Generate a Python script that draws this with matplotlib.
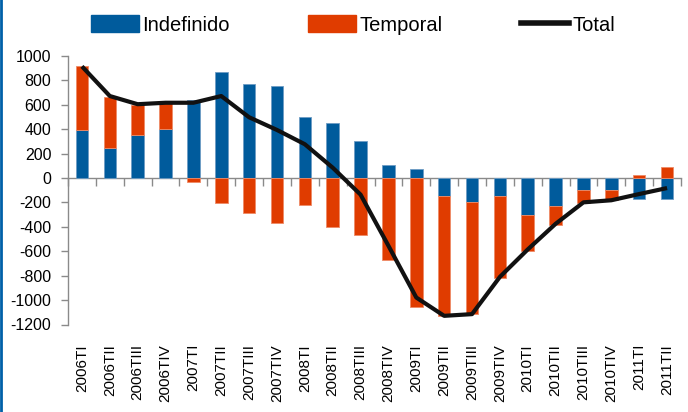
import matplotlib
matplotlib.use("Agg")
import matplotlib.pyplot as plt
from matplotlib.lines import Line2D
from matplotlib.patches import Patch
import numpy as np

categories = ["2006TI", "2006TII", "2006TIII", "2006TIV",
              "2007TI", "2007TII", "2007TIII", "2007TIV",
              "2008TI", "2008TII", "2008TIII", "2008TIV",
              "2009TI", "2009TII", "2009TIII", "2009TIV",
              "2010TI", "2010TII", "2010TIII", "2010TIV",
              "2011TI", "2011TII"]
indefinido = [390, 245, 350, 400, 640, 865, 767, 751, 500, 452, 305, 103,
              71, -150, -199, -147, -299, -231, -95, -95, -169, -169]
temporal = [530, 420, 250, 215, -35, -204, -286, -370, -220, -403, -470, -672,
            -1053, -984, -916, -669, -302, -150, -109, -85, 22, 87]
total = [915, 672, 605, 617, 617, 672, 498, 394, 277, 85, -136, -555,
         -979, -1129, -1115, -810, -585, -375, -199, -182, -131, -82]
yticks = [1000, 800, 600, 400, 200, 0, -200, -400, -600, -800, -1000, -1200]

BLUE = "#005B9C"
RED = "#E03C00"
GREY = "#8A8A8A"

plt.rcParams['font.family'] = ['Liberation Sans', 'DejaVu Sans']

fig = plt.figure(figsize=(6.88, 4.12), dpi=100)
ax = fig.add_axes([68/688, 1-324.5/412, (681-68)/688, (324.5-56)/412])

x = np.arange(len(categories))
blue = np.array(indefinido, dtype=float)
red = np.array(temporal, dtype=float)
red_bottom = np.where(np.sign(red) == np.sign(blue), blue, 0)

w = 0.45
ax.bar(x, blue, width=w, color=BLUE, edgecolor="#6E9CC4", linewidth=0.6, zorder=2)
ax.bar(x, red, width=w, bottom=red_bottom, color=RED, edgecolor="#EE8A66", linewidth=0.6, zorder=2)
ax.plot(x, total, color="#111111", linewidth=3.0, solid_capstyle='butt', zorder=4)

ax.set_xlim(-0.5, len(categories) - 0.5)
ax.set_ylim(-1200, 1000)
ax.set_yticks(yticks)
ax.set_yticklabels([str(v) for v in yticks], fontsize=11.5)
ax.tick_params(axis='y', length=5, width=1, color=GREY, pad=7)

ax.set_xticks(x)
ax.set_xticklabels(categories, rotation=90, fontsize=11, va='top', ha='center')
ax.tick_params(axis='x', length=0, pad=14)

for s in ['top', 'right', 'bottom']:
    ax.spines[s].set_visible(False)
ax.spines['left'].set_color(GREY)
ax.spines['left'].set_linewidth(1)

# zero axis with category boundary ticks
sec = ax.secondary_xaxis(0, transform=ax.transData)
sec.set_xticks(np.arange(len(categories) + 1) - 0.5)
sec.tick_params(axis='x', length=6, width=1, color=GREY, direction='out', labelbottom=False, labeltop=False)
for s in sec.spines.values():
    s.set_color(GREY)
    s.set_linewidth(1)

handles = [Patch(facecolor=BLUE, edgecolor=BLUE, label="Indefinido"),
           Patch(facecolor=RED, edgecolor=RED, label="Temporal"),
           Line2D([0], [0], color="#111111", linewidth=4, label="Total")]
fig.legend(handles=handles, loc='center', bbox_to_anchor=(353/688, 1-25/412),
           ncol=3, frameon=False,
           prop={'size': 14.5},
           handlelength=2.4, handleheight=0.85, handletextpad=0.15, columnspacing=3.9)

fig.add_artist(Line2D([0.002, 0.002], [0, 1], transform=fig.transFigure, color="#0060A8", linewidth=2))

fig.savefig("out.png", dpi=100)
